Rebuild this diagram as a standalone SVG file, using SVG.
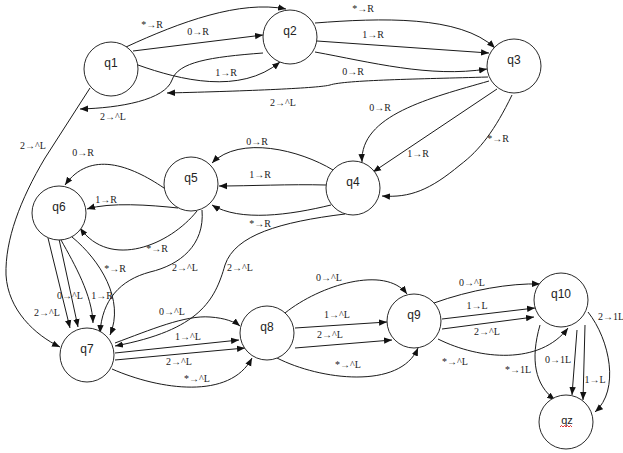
<svg xmlns="http://www.w3.org/2000/svg" width="623" height="453" viewBox="0 0 623 453">
<style>
.e{fill:none;stroke:#1a1a1a;stroke-width:1;marker-end:url(#ah)}
.n{fill:#fff;stroke:#2a2a2a;stroke-width:1}
.nt{font-family:"Liberation Sans",Arial,sans-serif;font-size:12px;fill:#222;text-anchor:middle}
.l{font-family:"Liberation Serif","Times New Roman",serif;font-size:10px;fill:#222;text-anchor:middle}
</style>
<defs>
<marker id="ah" viewBox="0 0 10 10" refX="10" refY="5" markerWidth="8" markerHeight="8" markerUnits="userSpaceOnUse" orient="auto"><path d="M0,1 L10,5 L0,9 z" fill="#111"/></marker>
</defs>
<rect width="623" height="453" fill="#fff"/>
<g id="connectors">
<path class="e" d="M126,47 C180,22 240,0 286,9"/>
<path class="e" d="M133,51 L263,35"/>
<path class="e" d="M138,65 C180,80 240,95 280,62"/>
<path class="e" d="M263,53 C210,57 178,62 172,80 C165,100 120,108 80,109"/>
<path class="e" d="M488,77 C420,79 345,80 330,85 C320,88 250,91 167,93"/>
<path class="e" d="M315,23 C380,18 460,15 495,48"/>
<path class="e" d="M317,41 L489,53"/>
<path class="e" d="M315,52 C370,62 430,78 487,69"/>
<path class="e" d="M489,81 C430,98 360,115 362,162"/>
<path class="e" d="M497,89 L373,172"/>
<path class="e" d="M512,95 C495,130 480,150 460,165 C430,190 410,198 382,196"/>
<path class="e" d="M333,170 C300,150 240,135 212,163"/>
<path class="e" d="M326,185 C290,184 250,186 219,186"/>
<path class="e" d="M331,205 C290,215 240,222 212,205"/>
<path class="e" d="M345,214 C280,222 235,235 225,265 C215,300 200,330 115,346"/>
<path class="e" d="M164,188 C130,165 90,150 65,185"/>
<path class="e" d="M178,208 C150,205 110,202 87,209"/>
<path class="e" d="M197,211 C170,245 110,270 80,228"/>
<path class="e" d="M202,210 C205,245 180,265 150,272 C120,280 102,300 100,333"/>
<path class="e" d="M48,238 L70,328"/>
<path class="e" d="M59,239 L78,327"/>
<path class="e" d="M61,240 C75,265 92,295 93,323"/>
<path class="e" d="M72,237 C100,260 125,300 110,335"/>
<path class="e" d="M90,88 L45,158 C20,200 5,240 6,275 C8,310 35,335 60,347"/>
<path class="e" d="M115,343 C150,330 185,315 210,317 C225,318 235,322 240,326"/>
<path class="e" d="M115,353 L239,340"/>
<path class="e" d="M115,360 L245,348"/>
<path class="e" d="M112,369 C160,390 230,400 252,358"/>
<path class="e" d="M285,313 C320,285 385,265 407,294"/>
<path class="e" d="M295,328 L387,322"/>
<path class="e" d="M295,348 L392,340"/>
<path class="e" d="M277,358 C320,380 400,390 418,348"/>
<path class="e" d="M434,303 C470,290 510,283 540,284"/>
<path class="e" d="M442,319 L535,308"/>
<path class="e" d="M442,329 L534,317"/>
<path class="e" d="M438,339 C480,360 540,365 568,328"/>
<path class="e" d="M540,325 C530,360 535,385 555,400"/>
<path class="e" d="M577,330 L572,395"/>
<path class="e" d="M585,325 L583,400"/>
<path class="e" d="M588,312 C610,340 620,390 595,412"/>
</g>
<g id="labels">
<text class="l" x="152" y="28">*→R</text>
<text class="l" x="198" y="35">0→R</text>
<text class="l" x="226" y="76">1→R</text>
<text class="l" x="113" y="120">2→^L</text>
<text class="l" x="283" y="106">2→^L</text>
<text class="l" x="363" y="12">*→R</text>
<text class="l" x="373" y="38">1→R</text>
<text class="l" x="353" y="75">0→R</text>
<text class="l" x="380" y="111">0→R</text>
<text class="l" x="418" y="157">1→R</text>
<text class="l" x="498" y="142">*→R</text>
<text class="l" x="257" y="145">0→R</text>
<text class="l" x="260" y="178">1→R</text>
<text class="l" x="260" y="227">*→R</text>
<text class="l" x="240" y="271">2→^L</text>
<text class="l" x="185" y="271">2→^L</text>
<text class="l" x="83" y="156">0→R</text>
<text class="l" x="106" y="203">1→R</text>
<text class="l" x="157" y="252">*→R</text>
<text class="l" x="115" y="272">*→R</text>
<text class="l" x="70" y="299">0→^L</text>
<text class="l" x="102" y="299">1→R</text>
<text class="l" x="47" y="316">2→^L</text>
<text class="l" x="33" y="149">2→^L</text>
<text class="l" x="172" y="315">0→^L</text>
<text class="l" x="188" y="340">1→^L</text>
<text class="l" x="179" y="365">2→^L</text>
<text class="l" x="197" y="382">*→^L</text>
<text class="l" x="329" y="281">0→^L</text>
<text class="l" x="337" y="318">1→^L</text>
<text class="l" x="330" y="338">2→^L</text>
<text class="l" x="348" y="368">*→^L</text>
<text class="l" x="472" y="286">0→^L</text>
<text class="l" x="477" y="309">1→L</text>
<text class="l" x="487" y="335">2→^L</text>
<text class="l" x="455" y="365">*→^L</text>
<text class="l" x="518" y="373">*→1L</text>
<text class="l" x="558" y="363">0→1L</text>
<text class="l" x="595" y="383">1→L</text>
<text class="l" x="611" y="320">2→1L</text>
</g>
<g id="q1"><circle class="n" cx="111" cy="69" r="27"/><text class="nt" x="111" y="67">q1</text></g>
<g id="q2"><circle class="n" cx="290" cy="37" r="27"/><text class="nt" x="290" y="35">q2</text></g>
<g id="q3"><circle class="n" cx="514" cy="66" r="27"/><text class="nt" x="514" y="64">q3</text></g>
<g id="q4"><circle class="n" cx="353" cy="188" r="27"/><text class="nt" x="353" y="186">q4</text></g>
<g id="q5"><circle class="n" cx="191" cy="184" r="27"/><text class="nt" x="191" y="182">q5</text></g>
<g id="q6"><circle class="n" cx="59" cy="213" r="27"/><text class="nt" x="59" y="211">q6</text></g>
<g id="q7"><circle class="n" cx="87" cy="355" r="27"/><text class="nt" x="87" y="353">q7</text></g>
<g id="q8"><circle class="n" cx="267" cy="333" r="27"/><text class="nt" x="267" y="331">q8</text></g>
<g id="q9"><circle class="n" cx="414" cy="321" r="27"/><text class="nt" x="414" y="319">q9</text></g>
<g id="q10"><circle class="n" cx="561" cy="300" r="27"/><text class="nt" x="561" y="298">q10</text></g>
<g id="qz"><circle class="n" cx="566" cy="422" r="27"/><text class="nt" x="567" y="424" style="font-size:11px">qz</text><path d="M560,427 l1.5,-1.5 l1.5,1.5 l1.5,-1.5 l1.5,1.5 l1.5,-1.5 l1.5,1.5 l1.5,-1.5 l1.5,1.5" fill="none" stroke="#d00" stroke-width="0.8"/></g>
</svg>
